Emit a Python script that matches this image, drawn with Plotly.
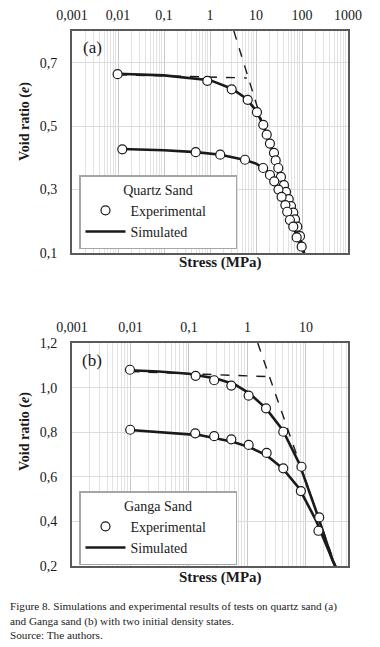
import plotly.graph_objects as go

# ---------------- data ----------------
# (a) Quartz sand, dense state
qa_dense_exp_x = [0.0098, 0.875, 2.96, 6.6, 10.5, 14.4, 17.1, 20.1, 24.6, 26.8, 30.5, 34.9, 40.6, 44.9, 51.4, 57.7, 64.7, 70.5, 79, 90.5, 98.5]
qa_dense_exp_e = [0.664, 0.643, 0.616, 0.583, 0.544, 0.504, 0.473, 0.445, 0.416, 0.392, 0.368, 0.340, 0.314, 0.293, 0.270, 0.248, 0.227, 0.206, 0.183, 0.153, 0.120]
qa_dense_sim_x = [0.0098, 0.1, 1, 3, 6, 10, 14, 20, 30, 45, 70, 90, 110]
qa_dense_sim_e = [0.665, 0.660, 0.645, 0.618, 0.588, 0.550, 0.507, 0.447, 0.370, 0.290, 0.205, 0.150, 0.100]
# (a) Quartz sand, loose state
qa_loose_exp_x = [0.0124, 0.489, 1.67, 5.77, 14.3, 20.1, 24.9, 30.8, 36, 43.5, 47.7, 54.6, 64.7, 76.6]
qa_loose_exp_e = [0.427, 0.418, 0.410, 0.394, 0.368, 0.346, 0.326, 0.300, 0.277, 0.251, 0.230, 0.204, 0.183, 0.149]
qa_loose_sim_x = [0.0124, 0.1, 0.5, 1.7, 5.8, 10, 15, 20, 30, 45, 70, 112]
qa_loose_sim_e = [0.428, 0.424, 0.418, 0.410, 0.393, 0.382, 0.367, 0.348, 0.305, 0.245, 0.170, 0.100]
# (a) construction lines
qa_flat_x = [0.01, 6.3]
qa_flat_e = [0.662, 0.652]
qa_steep_x = [3.3, 102]
qa_steep_e = [0.8, 0.1]

# (b) Ganga sand, dense state
gb_dense_exp_x = [0.0098, 0.13, 0.27, 0.53, 1.05, 2.08, 4.1, 8.4, 16.9]
gb_dense_exp_e = [1.080, 1.053, 1.033, 1.009, 0.964, 0.907, 0.802, 0.645, 0.418]
gb_dense_sim_x = [0.0098, 0.03, 0.1, 0.3, 0.6, 1.08, 2.08, 4.0, 7.7, 14.8, 28.5, 33]
gb_dense_sim_e = [1.078, 1.072, 1.062, 1.040, 1.015, 0.974, 0.907, 0.810, 0.660, 0.450, 0.227, 0.19]
# (b) Ganga sand, loose state
gb_loose_exp_x = [0.0099, 0.128, 0.27, 0.53, 1.05, 2.13, 4.1, 8.2, 16.4]
gb_loose_exp_e = [0.811, 0.795, 0.782, 0.768, 0.743, 0.707, 0.638, 0.536, 0.358]
gb_loose_sim_x = [0.0099, 0.15, 0.56, 1.1, 2.08, 4.0, 7.7, 14.8, 28.5, 33]
gb_loose_sim_e = [0.810, 0.787, 0.757, 0.732, 0.698, 0.638, 0.548, 0.406, 0.227, 0.19]
# (b) construction lines
gb_flat_x = [0.01, 2.3]
gb_flat_e = [1.072, 1.049]
gb_steep_x = [1.5, 32]
gb_steep_e = [1.2, 0.2]

caption = ("Figure 8. Simulations and experimental results of tests on quartz sand (a)<br>"
           "and Ganga sand (b) with two initial density states.<br>"
           "Source: The authors.")

# ---------------- layout helpers ----------------
W, H = 380, 647
def px(x):
    return x / W
def py(y):
    return 1 - y / H

SERIF = "Liberation Serif, Times New Roman, serif"
INK = "#1a1a1a"
PAD = "\u00a0" * 7

fig = go.Figure()

def add_panel(xa, ya, legend,
              d_ex, d_ee, d_sx, d_se, l_ex, l_ee, l_sx, l_se, f_x, f_e, s_x, s_e):
    marker = dict(symbol="circle", size=9, color="white", line=dict(color=INK, width=1.2))
    line = dict(color=INK, width=2.6)
    dash = dict(color=INK, width=1.4, dash="dash")
    common = dict(xaxis=xa, yaxis=ya, legend=legend)
    fig.add_trace(go.Scatter(x=f_x, y=f_e, mode="lines", line=dash, showlegend=False, hoverinfo="skip", **common))
    fig.add_trace(go.Scatter(x=s_x, y=s_e, mode="lines", line=dash, showlegend=False, hoverinfo="skip", **common))
    fig.add_trace(go.Scatter(x=d_sx, y=d_se, mode="lines", line=line, name="Simulated",
                             legendgroup="sim" + legend, showlegend=True, legendrank=2, **common))
    fig.add_trace(go.Scatter(x=l_sx, y=l_se, mode="lines", line=line, name="Simulated",
                             legendgroup="sim" + legend, showlegend=False, **common))
    fig.add_trace(go.Scatter(x=d_ex, y=d_ee, mode="markers", marker=marker, name="Experimental" + PAD,
                             legendgroup="exp" + legend, showlegend=True, legendrank=1, **common))
    fig.add_trace(go.Scatter(x=l_ex, y=l_ee, mode="markers", marker=marker, name="Experimental",
                             legendgroup="exp" + legend, showlegend=False, **common))

add_panel("x", "y", "legend",
          qa_dense_exp_x, qa_dense_exp_e, qa_dense_sim_x, qa_dense_sim_e,
          qa_loose_exp_x, qa_loose_exp_e, qa_loose_sim_x, qa_loose_sim_e,
          qa_flat_x, qa_flat_e, qa_steep_x, qa_steep_e)
add_panel("x2", "y2", "legend2",
          gb_dense_exp_x, gb_dense_exp_e, gb_dense_sim_x, gb_dense_sim_e,
          gb_loose_exp_x, gb_loose_exp_e, gb_loose_sim_x, gb_loose_sim_e,
          gb_flat_x, gb_flat_e, gb_steep_x, gb_steep_e)

tickfont = dict(family=SERIF, size=14, color=INK)
frame = dict(showline=True, mirror=True, linecolor="#5a5a5a", linewidth=2, zeroline=False, automargin=False)

def xaxis(anchor, rng):
    return dict(type="log", range=rng, side="top", anchor=anchor, domain=[px(72), px(348)],
                dtick=1, tickfont=tickfont, ticks="", ticklabelstandoff=3,
                showgrid=True, gridcolor="#c8c8c8", gridwidth=1,
                minor=dict(dtick="D1", showgrid=True, gridcolor="#e2e2e2", gridwidth=1, ticks=""),
                **frame)

def yaxis(anchor, rng, tick0, top, bottom):
    return dict(range=rng, anchor=anchor, domain=[py(bottom), py(top)], tick0=tick0, dtick=0.2,
                tickformat=".1f", tickfont=tickfont, ticks="", ticklabelstandoff=10,
                showgrid=True, gridcolor="#dcdcdc", gridwidth=1, **frame)

legend_common = dict(bgcolor="white", bordercolor="#a6a6a6", borderwidth=1.5,
                     font=dict(family=SERIF, size=14, color=INK),
                     xanchor="left", yanchor="top", tracegroupgap=0, itemwidth=40)

fig.update_layout(
    width=W, height=H, margin=dict(l=0, r=0, t=0, b=0, autoexpand=False),
    paper_bgcolor="white", plot_bgcolor="white",
    separators=",.",
    xaxis=xaxis("y", [-3, 3]),
    yaxis=yaxis("x", [0.1, 0.8], 0.1, 31, 253),
    xaxis2=xaxis("y2", [-3, 1.72]),
    yaxis2=yaxis("x2", [0.2, 1.2], 0.2, 343, 566),
    legend=dict(x=px(79), y=py(175),
                title=dict(text="Quartz Sand", side="top center", font=dict(family=SERIF, size=14, color=INK)),
                **legend_common),
    legend2=dict(x=px(79), y=py(491),
                 title=dict(text="Ganga Sand", side="top center", font=dict(family=SERIF, size=14, color=INK)),
                 **legend_common),
    showlegend=True,
)

ann = []
mid = dict(xref="paper", yref="paper", xanchor="center", yanchor="middle", showarrow=False)
for ytxt, ystress, lab, ylab in [(122, 263, "(a)", 48), (432, 577, "(b)", 360)]:
    ann.append(dict(text="<b>Void ratio (<i>e</i>)</b>", x=px(25), y=py(ytxt),
                    textangle=-90, font=dict(family=SERIF, size=14, color=INK), **mid))
    ann.append(dict(text="<b>Stress (MPa)</b>", x=px(220), y=py(ystress),
                    font=dict(family=SERIF, size=15, color=INK), **mid))
    ann.append(dict(text=lab, x=px(92), y=py(ylab),
                    font=dict(family=SERIF, size=17, color=INK), **mid))
ann.append(dict(text=caption, x=px(8), y=py(598), xref="paper", yref="paper", xanchor="left", yanchor="top",
                align="left", showarrow=False, font=dict(family=SERIF, size=11.2, color=INK)))
fig.update_layout(annotations=ann)

fig.write_html("out.html", config={"displayModeBar": False},
               post_script="document.body.style.margin='0';document.body.style.overflow='hidden';")
